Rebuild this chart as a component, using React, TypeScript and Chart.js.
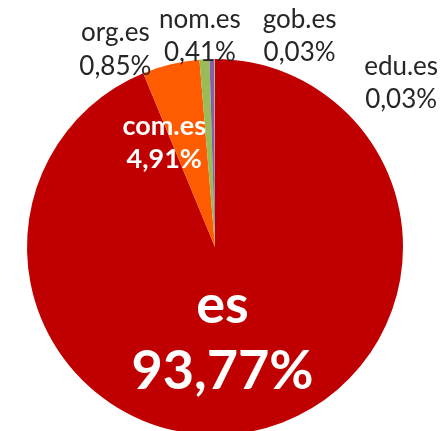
import React, { useEffect, useRef } from "react";
import { Chart, registerables } from "chart.js";

Chart.register(...registerables);

const categories = ["es", "com.es", "org.es", "nom.es", "gob.es", "edu.es"];
const shares = [93.77, 4.91, 0.85, 0.41, 0.03, 0.03];
const sliceColors = ["#C00000", "#FF5B00", "#9BBB59", "#8064A2", "#4BACC6", "#F79646"];

// label placement relative to pie centre, in units of radius
const labelStyle = [
  { dx: 0.04, dy1: 0.31, dy2: 0.665, size: 54, inside: true },
  { dx: -0.27, dy1: -0.64, dy2: -0.465, size: 27, inside: true },
  { dx: -0.53, dy1: -1.14, dy2: -0.96, size: 26, inside: false },
  { dx: -0.08, dy1: -1.21, dy2: -1.035, size: 26, inside: false },
  { dx: 0.45, dy1: -1.21, dy2: -1.035, size: 26, inside: false },
  { dx: 0.99, dy1: -0.96, dy2: -0.785, size: 26, inside: false },
];

const fmt = (v: number) => v.toFixed(2).replace(".", ",") + "%";

const labelPlugin = {
  id: "sliceLabels",
  afterDatasetsDraw(chart: any) {
    const meta = chart.getDatasetMeta(0);
    const arc = meta.data[0];
    if (!arc) return;
    const { x, y, outerRadius } = arc.getProps(["x", "y", "outerRadius"], true);
    const ctx = chart.ctx;
    ctx.save();
    ctx.textAlign = "center";
    ctx.textBaseline = "middle";
    categories.forEach((name, i) => {
      const s = labelStyle[i];
      ctx.fillStyle = s.inside ? "#FFFFFF" : "#262626";
      ctx.font = `${s.inside ? "bold " : ""}${s.size}px Lato, "Open Sans", sans-serif`;
      const cx = x + s.dx * outerRadius;
      ctx.fillText(name, cx, y + s.dy1 * outerRadius);
      ctx.fillText(fmt(shares[i]), cx, y + s.dy2 * outerRadius);
    });
    ctx.restore();
  },
};

export default function App() {
  const ref = useRef<HTMLCanvasElement>(null);
  useEffect(() => {
    document.body.style.margin = "0";
    document.body.style.overflow = "hidden";
    const chart = new Chart(ref.current!, {
      type: "pie",
      data: {
        labels: categories,
        datasets: [
          {
            data: shares,
            backgroundColor: sliceColors,
            borderWidth: 0,
          },
        ],
      },
      options: {
        responsive: false,
        animation: false,
        layout: { padding: { left: 27, right: 38, top: 59, bottom: 45 } },
        plugins: { legend: { display: false }, tooltip: { enabled: false } },
      },
      plugins: [labelPlugin],
    });
    return () => chart.destroy();
  }, []);
  return (
    <div style={{ position: "fixed", left: 0, top: 0, width: 441, height: 431, overflow: "hidden", background: "#fff" }}>
      <canvas ref={ref} width={441} height={480} style={{ display: "block" }} />
    </div>
  );
}
